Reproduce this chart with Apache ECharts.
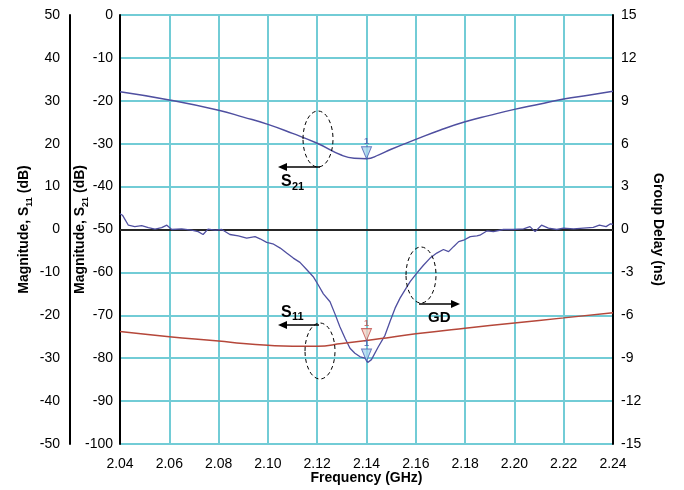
<!DOCTYPE html>
<html><head><meta charset="utf-8">
<script src="https://cdn.jsdelivr.net/npm/echarts@6/dist/echarts.min.js"></script>
<style>html,body{margin:0;padding:0;background:#fff}#c{width:684px;height:490px}</style>
</head><body><div id="c"></div>
<script>
// ---- data ----
const xTicks = [2.04,2.06,2.08,2.10,2.12,2.14,2.16,2.18,2.20,2.22,2.24];
const s21Freq = [2.04,2.06,2.08,2.09,2.10,2.11,2.12,2.13,2.135,2.14,2.145,2.15,2.16,2.17,2.18,2.19,2.20,2.21,2.22,2.23,2.24];
const s21Val  = [-17.9,-19.8,-22.2,-23.8,-25.5,-27.6,-29.9,-32.7,-33.4,-33.5,-32.6,-31.3,-29.0,-26.8,-24.9,-23.4,-22.0,-20.8,-19.6,-18.7,-17.8];
const s11Freq = [2.04,2.06,2.08,2.09,2.10,2.11,2.12,2.13,2.14,2.15,2.16,2.18,2.20,2.22,2.24];
const s11Val  = [-23.8,-25.0,-26.0,-26.6,-27.0,-27.2,-27.2,-26.6,-25.9,-25.1,-24.3,-23.0,-21.8,-20.6,-19.4];
const gdFreq = [2.040,2.041,2.0434,2.046,2.0488,2.0515,2.0542,2.0569,2.059,2.061,2.065,2.069,2.0717,2.0737,2.0757,2.0786,2.0813,2.0846,2.088,2.0914,2.0948,2.0968,2.0995,2.102,2.105,2.1076,2.1103,2.113,2.1157,2.1184,2.1205,2.1225,2.1252,2.1272,2.1292,2.1313,2.1333,2.1353,2.1374,2.1394,2.1405,2.142,2.1448,2.1475,2.1495,2.1516,2.1536,2.1557,2.1577,2.1604,2.1631,2.1658,2.1685,2.1712,2.1733,2.1753,2.1774,2.1794,2.1821,2.1848,2.186,2.1888,2.1915,2.1955,2.1996,2.2037,2.2063,2.2084,2.211,2.2138,2.2172,2.2199,2.224,2.228,2.232,2.2345,2.2372,2.239,2.24];
const gdVal  = [1.1,1.0,0.3,0.2,0.27,0.13,0.03,0.13,0.3,0.0,0.05,-0.05,-0.15,-0.35,0.03,-0.05,0.0,-0.35,-0.45,-0.6,-0.5,-0.65,-0.9,-1.0,-1.3,-1.65,-2.0,-2.3,-2.8,-3.3,-3.9,-4.5,-5.05,-5.9,-6.8,-7.6,-8.3,-8.65,-8.9,-9.0,-9.3,-9.1,-8.2,-7.4,-6.45,-5.5,-4.8,-4.2,-3.65,-3.05,-2.5,-2.0,-1.65,-1.4,-1.55,-1.2,-0.85,-0.75,-0.5,-0.45,-0.4,-0.1,-0.15,0.0,0.0,0.05,0.2,-0.15,0.3,0.1,0.0,0.1,0.05,0.1,0.15,0.3,0.2,0.4,0.35];
const markerFreq = 2.14;
const markerS21 = -33.5, markerS11 = -25.9, markerGD = -9.2;

const zip = (a,b) => a.map((v,i)=>[v,b[i]]);
const FONT = '"Liberation Sans", Arial, sans-serif';
const GRID = '#72ccd6';
const BLUE = '#4f4fa0';
const RED = '#b5473a';
const triPath = 'path://M0,0 L10,0 L5,12 Z';

const chart = echarts.init(document.getElementById('c'));
const axisLbl = (m) => ({color:'#000', fontSize:14, fontFamily:FONT, margin:m});
const nameStyle = {
  fontFamily: FONT, color:'#000',
  rich: {
    a: {fontSize:14, fontWeight:'bold', fontFamily:FONT, lineHeight:20, color:'#000'},
    sub: {fontSize:9, fontWeight:'bold', fontFamily:FONT, lineHeight:9, verticalAlign:'bottom', color:'#000'}
  }
};
function markerSeries(yIdx, val, fill, stroke) {
  return {
    type:'scatter', yAxisIndex:yIdx, data:[[markerFreq, val]],
    symbol: triPath, symbolSize:[10,12], symbolOffset:[0,-6],
    itemStyle:{color:fill, borderColor:stroke, borderWidth:1},
    label:{show:true, formatter:'1', position:'top', distance:0, color:stroke, fontSize:9, fontWeight:'bold', fontFamily:FONT},
    silent:true, z:5
  };
}
chart.setOption({
  animation:false,
  backgroundColor:'#fff',
  grid:{left:120, right:71, top:15, bottom:46},
  xAxis:{
    type:'value', min:2.04, max:2.24, interval:0.02,
    axisLine:{lineStyle:{color:'#000', width:2}},
    axisTick:{show:false},
    splitLine:{show:true, lineStyle:{color:GRID, width:2}},
    axisLabel:{...axisLbl(13), formatter:(v)=>v.toFixed(2)},
    name:'Frequency (GHz)', nameLocation:'middle', nameGap:27, nameMoveOverlap:false,
    nameTextStyle:{fontSize:14, fontWeight:'bold', fontFamily:FONT, color:'#000'}
  },
  yAxis:[
    {type:'value', position:'left', offset:50, min:-50, max:50, interval:10,
     axisLine:{show:true, lineStyle:{color:'#000', width:2}}, axisTick:{show:false},
     splitLine:{show:false}, axisLabel:axisLbl(10),
     name:'{a|Magnitude, S}{sub|11}{a| (dB)}', nameLocation:'middle', nameRotate:90, nameGap:36, nameMoveOverlap:false,
     nameTextStyle:nameStyle},
    {type:'value', position:'left', offset:0, min:-100, max:0, interval:10,
     axisLine:{show:true, lineStyle:{color:'#000', width:2}}, axisTick:{show:false},
     splitLine:{show:true, lineStyle:{color:GRID, width:2}}, axisLabel:axisLbl(7),
     name:'{a|Magnitude, S}{sub|21}{a| (dB)}', nameLocation:'middle', nameRotate:90, nameGap:30, nameMoveOverlap:false,
     nameTextStyle:nameStyle},
    {type:'value', position:'right', min:-15, max:15, interval:3,
     axisLine:{show:true, lineStyle:{color:'#000', width:2}}, axisTick:{show:false},
     splitLine:{show:false}, axisLabel:axisLbl(8),
     name:'Group Delay (ns)', nameLocation:'middle', nameRotate:-90, nameGap:38, nameMoveOverlap:false,
     nameTextStyle:{fontSize:14, fontWeight:'bold', fontFamily:FONT, color:'#000'}}
  ],
  series:[
    {type:'line', yAxisIndex:2, data:zip(gdFreq, gdVal), showSymbol:false, smooth:false,
     lineStyle:{color:BLUE, width:1.3}, z:3,
     markLine:{silent:true, symbol:'none', label:{show:false},
       lineStyle:{color:'#333', width:1.5, type:'solid'}, data:[{yAxis:0}], z:2}},
    {type:'line', yAxisIndex:1, data:zip(s21Freq, s21Val), showSymbol:false, smooth:true,
     lineStyle:{color:BLUE, width:1.5}, z:3},
    {type:'line', yAxisIndex:0, data:zip(s11Freq, s11Val), showSymbol:false, smooth:true,
     lineStyle:{color:RED, width:1.5}, z:3},
    markerSeries(1, markerS21, '#a9d6ee', '#4a5ab0'),
    markerSeries(0, markerS11, '#f5cfc2', '#c0504d'),
    markerSeries(2, markerGD, '#a9d6ee', '#4a5ab0')
  ],
  graphic:[
    {type:'ellipse', shape:{cx:318, cy:139, rx:15, ry:28}, style:{fill:null, stroke:'#000', lineWidth:1, lineDash:[4,3]}, z:10},
    {type:'ellipse', shape:{cx:320, cy:351, rx:15, ry:28}, style:{fill:null, stroke:'#000', lineWidth:1, lineDash:[4,3]}, z:10},
    {type:'ellipse', shape:{cx:421, cy:275, rx:15, ry:28}, style:{fill:null, stroke:'#000', lineWidth:1, lineDash:[4,3]}, z:10},
    {type:'line', shape:{x1:320, y1:167, x2:285, y2:167}, style:{stroke:'#000', lineWidth:1.5}, z:10},
    {type:'polygon', shape:{points:[[278,167],[287,163],[287,171]]}, style:{fill:'#000'}, z:10},
    {type:'line', shape:{x1:319, y1:325, x2:285, y2:325}, style:{stroke:'#000', lineWidth:1.5}, z:10},
    {type:'polygon', shape:{points:[[278,325],[287,321],[287,329]]}, style:{fill:'#000'}, z:10},
    {type:'line', shape:{x1:419, y1:304, x2:452, y2:304}, style:{stroke:'#000', lineWidth:1.5}, z:10},
    {type:'polygon', shape:{points:[[460,304],[451,300],[451,308]]}, style:{fill:'#000'}, z:10},
    {type:'text', x:281, y:174, style:{text:'S', fontSize:16, fontWeight:'bold', fontFamily:FONT, fill:'#000'}, z:10},
    {type:'text', x:292, y:181, style:{text:'21', fontSize:11, fontWeight:'bold', fontFamily:FONT, fill:'#000'}, z:10},
    {type:'text', x:281, y:305, style:{text:'S', fontSize:16, fontWeight:'bold', fontFamily:FONT, fill:'#000'}, z:10},
    {type:'text', x:292, y:311, style:{text:'11', fontSize:11, fontWeight:'bold', fontFamily:FONT, fill:'#000'}, z:10},
    {type:'text', x:428, y:310, style:{text:'GD', fontSize:15, fontWeight:'bold', fontFamily:FONT, fill:'#000'}, z:10}
  ]
});
</script></body></html>
